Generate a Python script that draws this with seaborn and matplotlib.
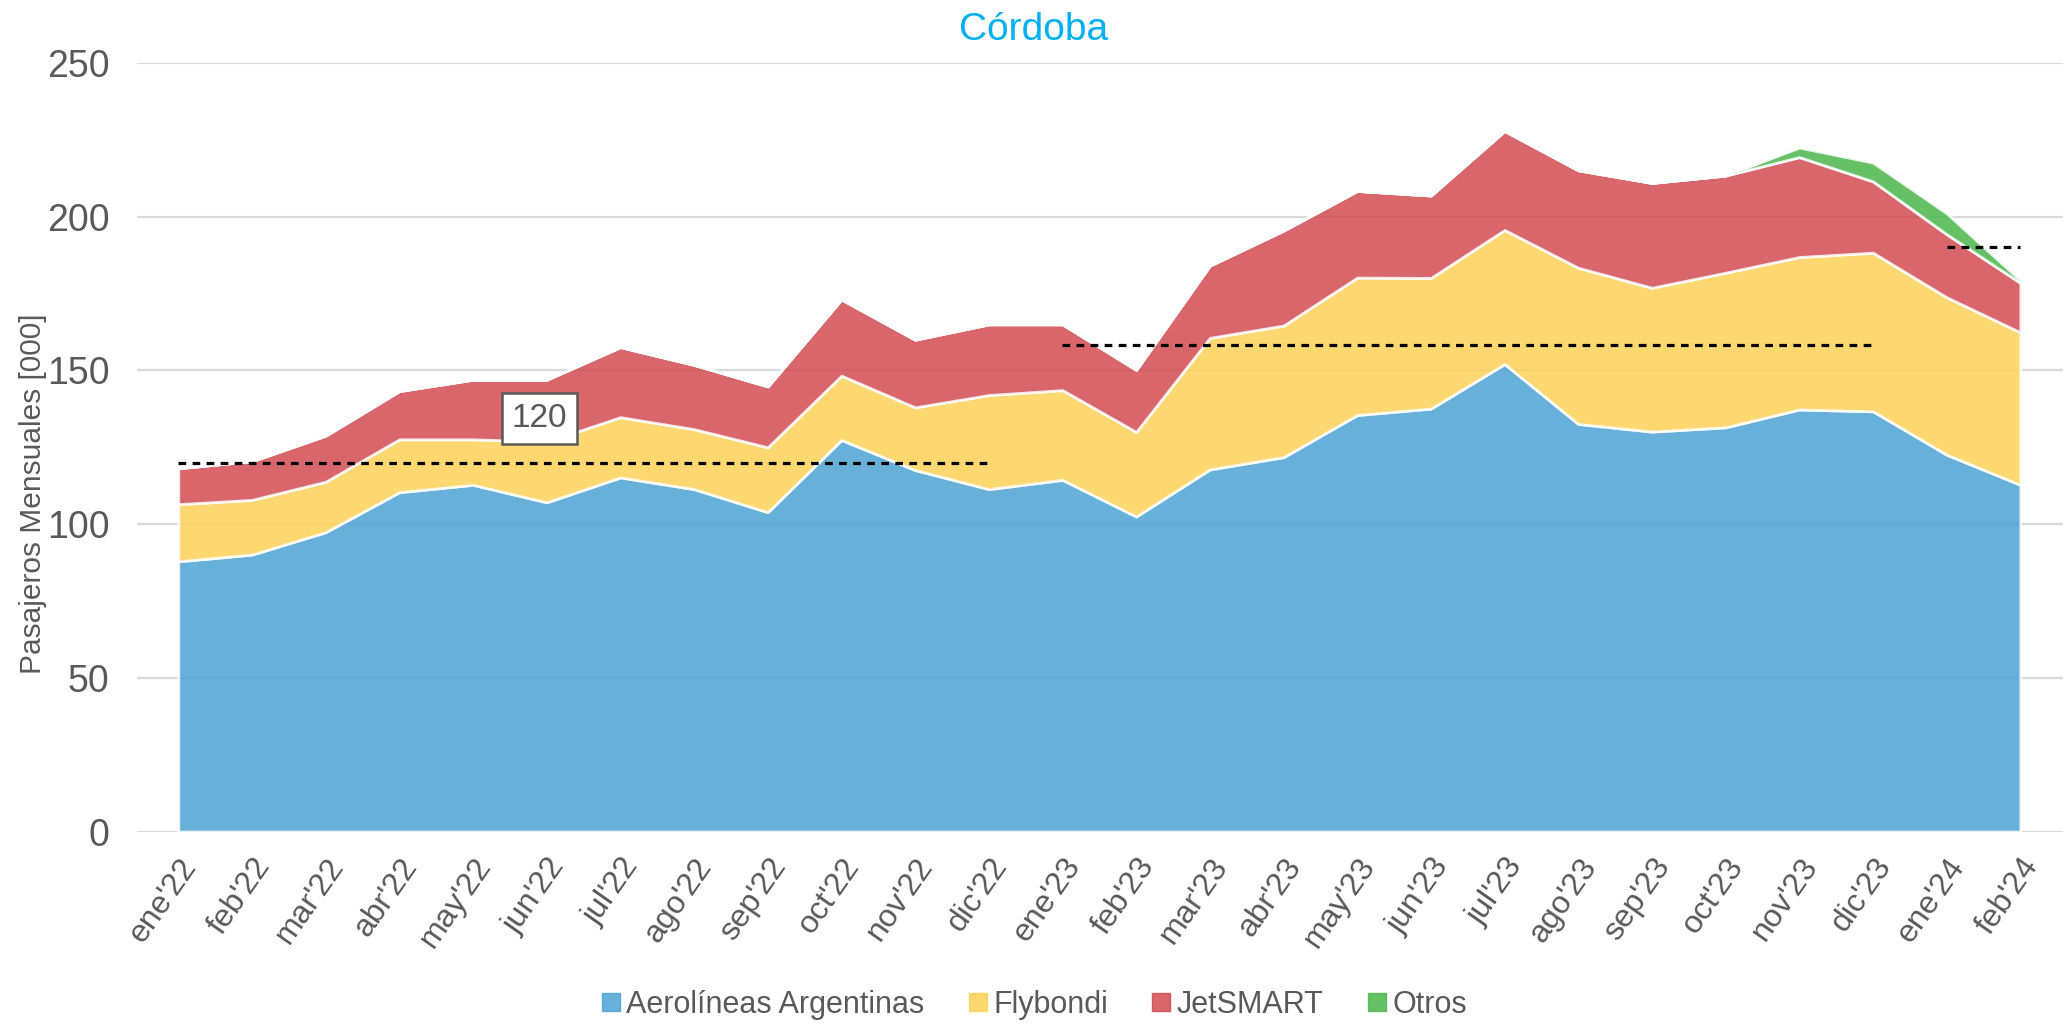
import numpy as np
import pandas as pd
import matplotlib
matplotlib.use('Agg')
import matplotlib.pyplot as plt
from matplotlib.lines import Line2D
import seaborn as sns

# Monthly passengers (thousands) - Córdoba
meses = ["ene'22", "feb'22", "mar'22", "abr'22", "may'22", "jun'22", "jul'22", "ago'22",
         "sep'22", "oct'22", "nov'22", "dic'22", "ene'23", "feb'23", "mar'23", "abr'23",
         "may'23", "jun'23", "jul'23", "ago'23", "sep'23", "oct'23", "nov'23", "dic'23",
         "ene'24", "feb'24"]

aerolineas = [87.9, 90.1, 97.4, 110.4, 112.8, 107.1, 115.2, 111.4, 103.9, 127.4, 117.6, 111.4, 114.4,
              102.5, 117.8, 121.8, 135.5, 137.6, 152.1, 132.6, 130.1, 131.5, 137.3, 136.7, 122.6, 112.8]
flybondi = [18.6, 17.8, 16.4, 17.2, 14.8, 19.7, 19.6, 19.5, 21.1, 20.9, 20.4, 30.6, 29.2,
            27.5, 42.8, 42.8, 44.7, 42.5, 43.6, 50.8, 46.8, 50.3, 49.6, 51.6, 51.2, 49.6]
jetsmart = [11.7, 12.6, 15.0, 15.7, 19.4, 20.2, 22.8, 20.9, 19.8, 24.8, 22.0, 23.0, 21.4,
            20.2, 23.5, 30.9, 28.2, 26.8, 32.2, 31.7, 34.1, 31.6, 32.5, 23.2, 20.5, 16.1]
otros = [0, 0, 0, 0, 0, 0, 0, 0, 0, 0, 0, 0, 0,
         0, 0, 0, 0, 0, 0, 0, 0, 0, 3.1, 6.1, 6.8, 0.8]

series_names = ['Aerolíneas Argentinas', 'Flybondi', 'JetSMART', 'Otros']
series_colors = ['#4CA2D4', '#FDD157', '#D24B50', '#4BB74B']

# yearly averages shown as dashed lines
promedio_anios = ['2022', '2023', '2024']
promedio_valores = [120, 158.2, 190.2]
promedio_desde = [0, 12, 24]
promedio_hasta = [11, 23, 25]

sns.set_theme(style='whitegrid')
plt.rcParams['font.family'] = ['Liberation Sans', 'DejaVu Sans']

gray = '#595959'
fig = plt.figure(figsize=(20.67, 10.33), dpi=100)
ax = fig.add_axes([0.0663, 0.195, 0.9318, 0.744])

x = np.arange(len(meses))
ax.stackplot(x, aerolineas, flybondi, jetsmart, otros, colors=series_colors,
             alpha=0.85, edgecolor='white', linewidth=2, zorder=2)

rows = []
for anio, val, a, b in zip(promedio_anios, promedio_valores, promedio_desde, promedio_hasta):
    rows.append({'anio': anio, 'x': a, 'y': val})
    rows.append({'anio': anio, 'x': b, 'y': val})
prom = pd.DataFrame(rows)
for anio, g in prom.groupby('anio'):
    sns.lineplot(data=g, x='x', y='y', ax=ax, color='black', linewidth=2.3, zorder=4)
    ax.lines[-1].set_dashes((2.4, 2.0))

ax.text(4.9, 134.3, '120', fontsize=24, color=gray, ha='center', va='center', zorder=5,
        bbox=dict(boxstyle='square,pad=0.3', fc='white', ec=gray, lw=1.8))

ax.set_xlim(-0.56, 25.58)
ax.set_ylim(0, 250)
ax.set_yticks([0, 50, 100, 150, 200, 250])
ax.set_xticks(x)
ax.set_xticklabels(meses, rotation=55, ha='right', rotation_mode='anchor',
                   fontsize=23, color=gray)
ax.tick_params(axis='y', labelsize=27, labelcolor=gray, pad=20, length=0)
ax.tick_params(axis='x', pad=15, length=0)
ax.grid(axis='x', visible=False)
ax.grid(axis='y', color='#D9D9D9', linewidth=1.6)
for s in ax.spines.values():
    s.set_visible(False)
ax.set_xlabel('')
ax.set_ylabel('Pasajeros Mensuales [000]', fontsize=21.5, color=gray)
ax.yaxis.set_label_coords(-0.047, 0.44)

fig.suptitle('Córdoba', x=0.5, y=0.988, fontsize=28, color='#00B0F0')

handles = [Line2D([], [], marker='s', linestyle='', markersize=13, color=c, alpha=0.85)
           for c in series_colors]
fig.legend(handles, series_names, loc='center', bbox_to_anchor=(0.5, 0.027), ncol=4,
           frameon=False, fontsize=22, labelcolor=gray, handletextpad=0.15,
           columnspacing=1.4, handlelength=0.7)

fig.savefig('out.png', dpi=100)
